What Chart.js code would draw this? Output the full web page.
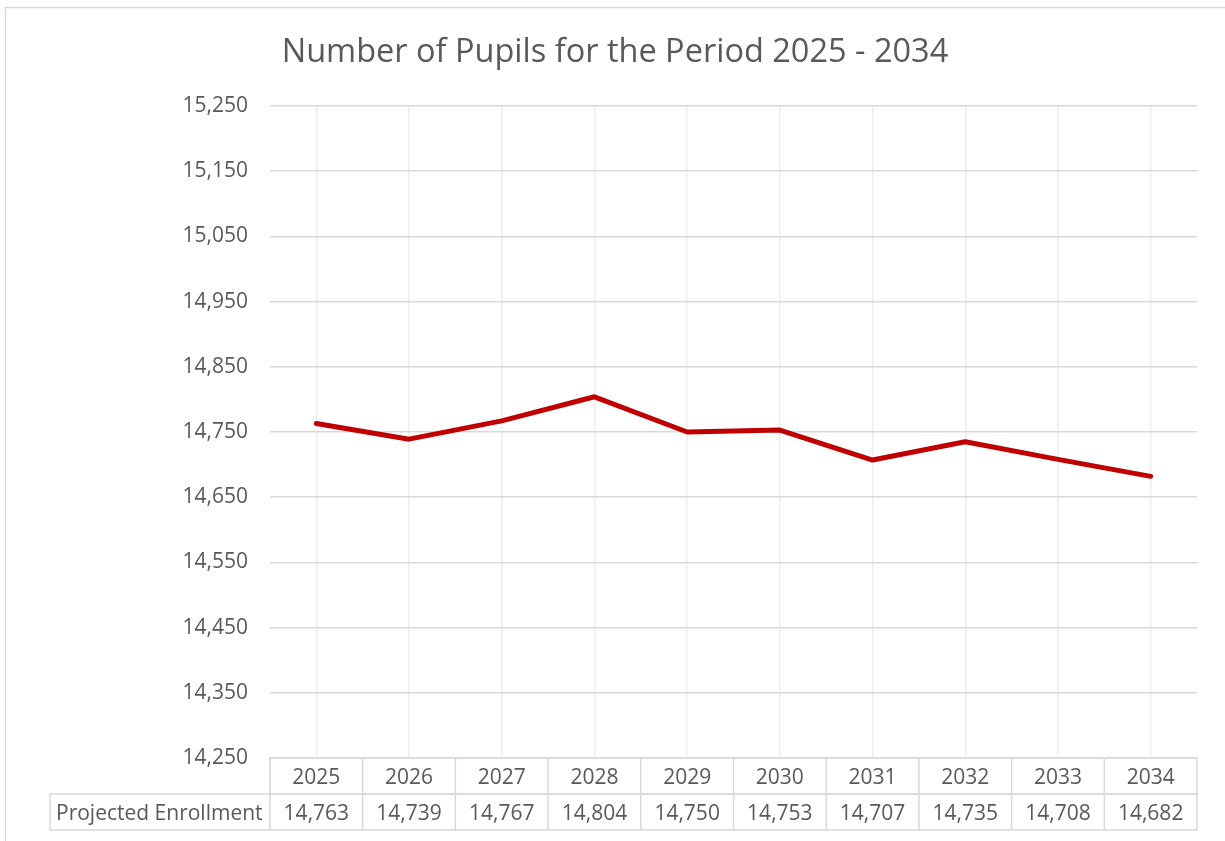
<!DOCTYPE html>
<html>
<head>
<meta charset="utf-8">
<script src="https://cdn.jsdelivr.net/npm/chart.js@4"></script>
<style>
  html, body { margin: 0; padding: 0; background: #fff; }
  #wrap { width: 1225px; height: 841px; }
</style>
</head>
<body>
<div id="wrap"><canvas id="pupilsChart" width="1225" height="841"></canvas></div>
<script>
// data
const years = ['2025', '2026', '2027', '2028', '2029', '2030', '2031', '2032', '2033', '2034'];
const enrollment = [14763, 14739, 14767, 14804, 14750, 14753, 14707, 14735, 14708, 14682];
const seriesName = 'Projected Enrollment';
const yMin = 14250;
const yMax = 15250;
const yStep = 100;

const FONT = '"Open Sans", sans-serif';
const TEXT = '#595959';
const GRID = '#d9d9d9';

// outer frame + data table under the plot
const tablePlugin = {
    id: 'dataTable',
    beforeDraw(chart) {
        const ctx = chart.ctx;
        ctx.save();
        ctx.strokeStyle = GRID;
        ctx.lineWidth = 1.5;
        ctx.strokeRect(5.5, 7.5, 1400, 1000);
        ctx.restore();
    },
    afterDraw(chart) {
        const ctx = chart.ctx;
        const x = chart.scales.x;
        const area = chart.chartArea;
        const half = (x.getPixelForValue(1) - x.getPixelForValue(0)) / 2;
        const top = area.bottom;
        const rowH = 36;
        const labelLeft = 50;

        ctx.save();
        ctx.strokeStyle = GRID;
        ctx.lineWidth = 1.5;
        // header row
        ctx.strokeRect(area.left, top, area.right - area.left, rowH);
        // values row incl. label cell
        ctx.strokeRect(labelLeft, top + rowH, area.right - labelLeft, rowH);
        ctx.beginPath();
        years.forEach((y, i) => {
            const cx = x.getPixelForValue(i);
            ctx.moveTo(cx - half, top);
            ctx.lineTo(cx - half, top + rowH * 2);
        });
        ctx.stroke();

        ctx.fillStyle = TEXT;
        ctx.font = '21px ' + FONT;
        ctx.textAlign = 'center';
        ctx.textBaseline = 'middle';
        years.forEach((y, i) => {
            const cx = x.getPixelForValue(i);
            ctx.fillText(y, cx, top + rowH / 2 + 2);
            ctx.fillText(enrollment[i].toLocaleString('en-US'), cx, top + rowH * 1.5 + 2);
        });
        ctx.textAlign = 'left';
        ctx.fillText(seriesName, 56, top + rowH * 1.5 + 2);
        ctx.restore();
    }
};

const ctx = document.getElementById('pupilsChart').getContext('2d');
new Chart(ctx, {
    type: 'line',
    data: {
        labels: years,
        datasets: [{
            label: seriesName,
            data: enrollment,
            borderColor: '#c00000',
            borderWidth: 5,
            borderCapStyle: 'round',
            borderJoinStyle: 'round',
            pointRadius: 0,
            tension: 0,
            fill: false
        }]
    },
    options: {
        responsive: false,
        animation: false,
        // left/right padding keep the title centred where the reference has it
        layout: { padding: { left: 33, right: 28, top: 0, bottom: 83 } },
        plugins: {
            legend: { display: false },
            tooltip: { enabled: false },
            title: {
                display: true,
                text: 'Number of Pupils for the Period 2025 - 2034',
                color: TEXT,
                font: { family: FONT, size: 32.5, weight: 'normal', lineHeight: 1.2 },
                padding: { top: 33, bottom: 34 }
            }
        },
        scales: {
            x: {
                offset: true,
                grid: { offset: false, color: '#eeeeee', lineWidth: 1.5, drawTicks: false },
                border: { display: false },
                ticks: { display: false },
                afterFit(scale) { scale.height = 0; }
            },
            y: {
                min: yMin,
                max: yMax,
                grid: { color: GRID, lineWidth: 1.5, drawTicks: false },
                border: { display: false },
                ticks: {
                    stepSize: yStep,
                    color: TEXT,
                    padding: 22,
                    font: { family: FONT, size: 21 },
                    callback: v => v.toLocaleString('en-US')
                },
                afterFit(scale) { scale.width = 237; }
            }
        }
    },
    plugins: [tablePlugin]
});
</script>
</body>
</html>
